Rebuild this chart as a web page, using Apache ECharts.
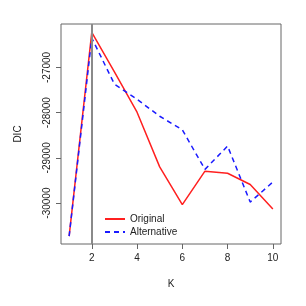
<!DOCTYPE html>
<html><head><meta charset="utf-8">
<script src="https://cdn.jsdelivr.net/npm/echarts@6/dist/echarts.min.js"></script>
<style>html,body{margin:0;padding:0;background:#fff}#c{width:306px;height:306px}</style>
</head><body><div id="c"></div>
<script>
const K = [1,2,3,4,5,6,7,8,9,10];
const original = [-30730,-26224,-27100,-27990,-29200,-30035,-29295,-29340,-29590,-30130];
const alternative = [-30730,-26350,-27370,-27705,-28080,-28380,-29255,-28740,-29978,-29535];
const xTicks = [2,4,6,8,10];
const yTicks = [-30000,-29000,-28000,-27000];
const chosenK = 2;

const font = 'Liberation Sans, Arial, sans-serif';
const chart = echarts.init(document.getElementById('c'), null, {renderer:'canvas'});
chart.setOption({
  animation:false,
  backgroundColor:'#fff',
  grid:{left:61,right:25,top:24,bottom:62,show:true,borderColor:'#666',borderWidth:1,backgroundColor:'transparent'},
  legend:{
    orient:'vertical', left:99, top:209, itemWidth:20, itemHeight:10, itemGap:3,
    itemStyle:{opacity:0},
    textStyle:{fontFamily:font,fontSize:10,color:'#222'},
    data:['Original','Alternative']
  },
  xAxis:{
    type:'value', min:0.64, max:10.36,
    name:'K', nameLocation:'middle', nameGap:35,
    nameTextStyle:{fontFamily:font,fontSize:10,color:'#222'},
    axisLine:{show:false},
    splitLine:{show:false},
    axisTick:{show:true,length:5,lineStyle:{color:'#666'},customValues:xTicks},
    axisLabel:{fontFamily:font,fontSize:10,color:'#222',margin:9,customValues:xTicks}
  },
  yAxis:{
    type:'value', min:-30905, max:-26040,
    name:'DIC', nameLocation:'middle', nameGap:38, nameRotate:90,
    nameTextStyle:{fontFamily:font,fontSize:10,color:'#222'},
    axisLine:{show:false},
    splitLine:{show:false},
    axisTick:{show:true,length:5,lineStyle:{color:'#666'},customValues:yTicks},
    axisLabel:{fontFamily:font,fontSize:10,color:'#222',margin:9,rotate:90,customValues:yTicks,
      formatter:v=>String(v)}
  },
  series:[
    {name:'Original',type:'line',symbol:'none',data:K.map((k,i)=>[k,original[i]]),
     lineStyle:{color:'#ff2020',width:1.5},itemStyle:{color:'#ff2020'},z:3,
     markLine:{silent:true,symbol:'none',label:{show:false},
       lineStyle:{color:'#8a8a8a',width:2,type:'solid'},data:[{xAxis:chosenK}]}},
    {name:'Alternative',type:'line',symbol:'none',data:K.map((k,i)=>[k,alternative[i]]),
     lineStyle:{color:'#1a1aff',width:1.5,type:[5,4]},itemStyle:{color:'#1a1aff'},z:4}
  ]
});
</script></body></html>
